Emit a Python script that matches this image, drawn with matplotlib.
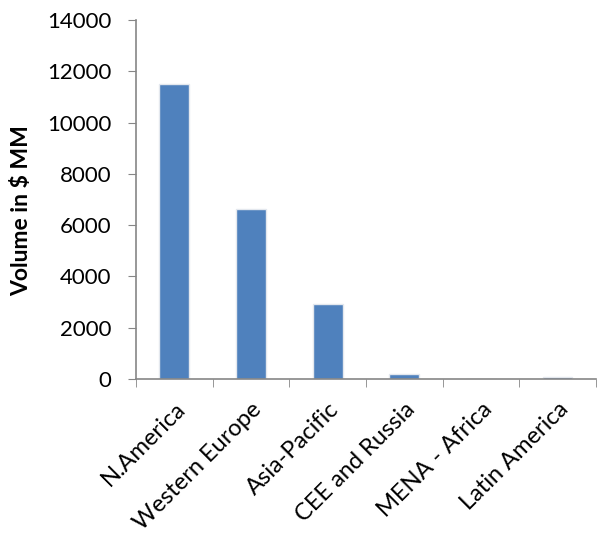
import numpy as np
import matplotlib.pyplot as plt

regions = ['N.America', 'Western Europe', 'Asia-Pacific', 'CEE and Russia',
           'MENA - Africa', 'Latin America']
volume = [11500, 6630, 2940, 200, 10, 100]
yticks = [0, 2000, 4000, 6000, 8000, 10000, 12000, 14000]

plt.rcParams['font.family'] = ['Lato', 'DejaVu Sans']

fig = plt.figure(figsize=(5.97, 5.37), dpi=100)
ax = fig.add_axes([0.228, 0.294, 0.77, 0.669])

x = np.arange(len(regions))
ax.bar(x, volume, width=0.39, color='#4F81BD', edgecolor='#e4e8ee', linewidth=1)

ax.set_xlim(-0.5, len(regions) - 0.5)
ax.set_ylim(0, 14000)
ax.set_yticks(yticks)
ax.tick_params(axis='y', labelsize=16, length=6, color='#868686', pad=12)

ax.set_xticks(x)
ax.set_xticklabels(regions, rotation=45, ha='right', rotation_mode='anchor', fontsize=17)
ax.tick_params(axis='x', which='major', length=0, pad=14)
ax.set_xticks(np.arange(-0.5, len(regions)), minor=True)
ax.tick_params(axis='x', which='minor', length=6, color='#868686')

for s in ['top', 'right']:
    ax.spines[s].set_visible(False)
for s in ['left', 'bottom']:
    ax.spines[s].set_color('#868686')
    ax.spines[s].set_linewidth(1.2)

ax.set_ylabel('Volume in $ MM', fontsize=16.5, fontweight='bold')
ax.yaxis.set_label_coords(-0.226, 0.47)

fig.savefig('out.png', dpi=100)
